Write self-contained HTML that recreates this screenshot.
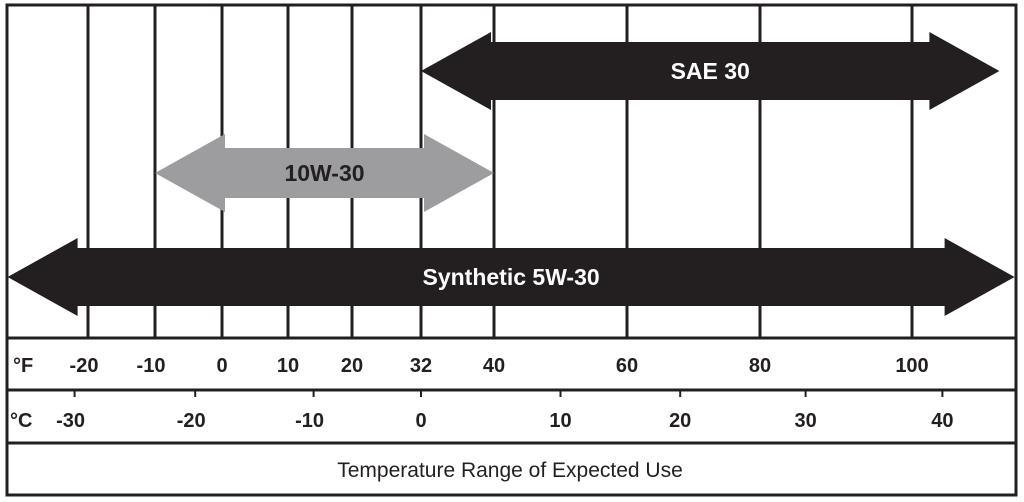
<!DOCTYPE html>
<html><head><meta charset="utf-8"><style>
html,body{margin:0;padding:0;background:#fff;width:1024px;height:502px;overflow:hidden}
svg{display:block}
text{font-family:"Liberation Sans",sans-serif}
</style></head><body>
<svg id="chart" width="1024" height="502" viewBox="0 0 1024 502" xmlns="http://www.w3.org/2000/svg"></svg>
<script>
// data
const fTicks = [-20,-10,0,10,20,32,40,60,80,100];
const cTicks = [-30,-20,-10,0,10,20,30,40];
const oilNames = ["SAE 30","10W-30","Synthetic 5W-30"];
const oilStartF = [32,-10,-32];
const oilEndF = [111.5,40,113.5];
const oilColors = ["#231f20","#9d9d9f","#231f20"];
const oilTextColors = ["#fff","#231f20","#fff"];

// axis (piecewise scale over the printed, non-uniform grid)
const scaleDomain = [-20,-10,0,10,20,32,40,60,80,100];
const scaleRange = [88,155,222,288,352,421,494,627,760,912];
function xF(f){
  let i=0;
  if(f<=scaleDomain[0]) i=0;
  else if(f>=scaleDomain[scaleDomain.length-1]) i=scaleDomain.length-2;
  else while(f>scaleDomain[i+1]) i++;
  const d0=scaleDomain[i],d1=scaleDomain[i+1],r0=scaleRange[i],r1=scaleRange[i+1];
  return r0+(f-d0)*(r1-r0)/(d1-d0);
}
function xC(c){return xF(c*9/5+32);}

const NS="http://www.w3.org/2000/svg";
const svg=document.getElementById('chart');
function mk(tag,attrs,parent){const e=document.createElementNS(NS,tag);for(const k in attrs)e.setAttribute(k,attrs[k]);(parent||svg).appendChild(e);return e;}

// grid lines
fTicks.forEach(f=>{
  const l=mk('line',{x1:xF(f),x2:xF(f),y1:5,y2:338,stroke:'#231f20','stroke-width':3});
  
  
});

// arrows
const rowY=[71,173,277];
const barH=[58,50,58];
const headH=[78,78,78];
oilNames.forEach((n,i)=>{
  const x0=xF(oilStartF[i]), x1=xF(oilEndF[i]), y=rowY[i], hb=barH[i]/2, hh=headH[i]/2, hl=70;
  const pts=[[x0,y],[x0+hl,y-hh],[x0+hl,y-hb],[x1-hl,y-hb],[x1-hl,y-hh],[x1,y],[x1-hl,y+hh],[x1-hl,y+hb],[x0+hl,y+hb],[x0+hl,y+hh]];
  const g=mk('g',{});
  
  
  mk('polygon',{points:pts.map(p=>p.join(',')).join(' '),fill:oilColors[i]},g);
  const t=mk('text',{x:(x0+x1)/2,y:y+8,'text-anchor':'middle','font-size':23,'font-weight':'bold',fill:oilTextColors[i]},g);
  t.textContent=n;
  
  
});

// frame and rows
const frame=mk('rect',{x:7,y:5,width:1009,height:490,fill:'none',stroke:'#231f20','stroke-width':3});


[338,390,443].forEach(y=>{
  const l=mk('line',{x1:7,x2:1016,y1:y,y2:y,stroke:'#231f20','stroke-width':3});
  
  
});

// F axis
const fl=mk('text',{x:13,y:372,'font-size':20,'font-weight':'bold',fill:'#231f20'});
fl.textContent='°F';


fTicks.forEach(f=>{
  const t=mk('text',{x:xF(f)-(f<0?4:0),y:372,'text-anchor':'middle','font-size':20,'font-weight':'bold',fill:'#231f20'});
  t.textContent=f;
  
  
});
// C axis
const cl=mk('text',{x:10,y:427,'font-size':20,'font-weight':'bold',fill:'#231f20'});
cl.textContent='°C';


cTicks.forEach(c=>{
  const x=xC(c);
  const m=mk('line',{x1:x,x2:x,y1:391,y2:397,stroke:'#231f20','stroke-width':2});
  
  
  const t=mk('text',{x:x-(c<0?4:0),y:427,'text-anchor':'middle','font-size':20,'font-weight':'bold',fill:'#231f20'});
  t.textContent=c;
  
  
});

// caption
const cap=mk('text',{x:510,y:477,'text-anchor':'middle','font-size':21,fill:'#231f20'});
cap.textContent='Temperature Range of Expected Use';


</script>
</body></html>
